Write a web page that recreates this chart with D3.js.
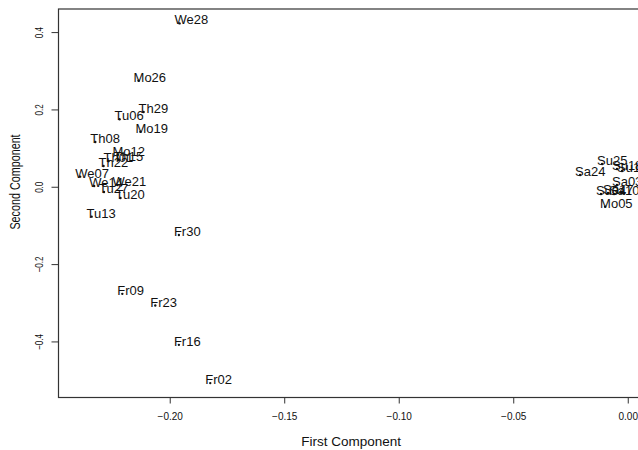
<!DOCTYPE html>
<html><head><meta charset="utf-8">
<script src="https://cdn.jsdelivr.net/npm/d3@7"></script>
<style>
html,body{margin:0;padding:0;background:#fff;}
svg{display:block;font-family:"Liberation Sans",Arial,Helvetica,sans-serif;}
</style></head>
<body>
<svg id="chart" width="638" height="450"></svg>
<script>
const labels = ["Th01","Fr02","Sa03","Su04","Mo05","Tu06","We07","Th08","Fr09","Sa10",
                "Su11","Mo12","Tu13","We14","Th15","Fr16","Sa17","Su18","Mo19","Tu20",
                "We21","Th22","Fr23","Sa24","Su25","Mo26","Tu27","We28","Th29","Fr30"];
const firstComp = [-0.2267,-0.1823,-0.0047,-0.0117,-0.0099,-0.2219,-0.2391,-0.2325,-0.2207,-0.0060,
                   -0.0025,-0.2228,-0.2341,-0.2330,-0.2223,-0.1960,-0.0086,-0.0047,-0.2128,-0.2215,
                   -0.2228,-0.2289,-0.2063,-0.0208,-0.0112,-0.2136,-0.2287,-0.1957,-0.2114,-0.1960];
const secondComp = [0.0680,-0.5065,0.0059,-0.0173,-0.0501,0.1757,0.0274,0.1171,-0.2757,-0.0173,
                    0.0421,0.0835,-0.0760,0.0034,0.0705,-0.4075,-0.0147,0.0473,0.1437,-0.0276,
                    0.0059,0.0550,-0.3059,0.0318,0.0602,0.2755,-0.0121,0.4238,0.1946,-0.1233];
const xTicks = [-0.20,-0.15,-0.10,-0.05,0.00];
const xTickLabels = ["\u22120.20","\u22120.15","\u22120.10","\u22120.05","0.00"];
const yTicks = [0.4,0.2,0.0,-0.2,-0.4];
const yTickLabels = ["0.4","0.2","0.0","\u22120.2","\u22120.4"];
const xTitle = "First Component";
const yTitle = "Second Component";

const svg = d3.select("#chart");
const L = 58.5, R = 643.7, T = 9, B = 397.5;
const xExt = d3.extent(firstComp), yExt = d3.extent(secondComp);
const xPad = (xExt[1]-xExt[0])*0.04, yPad = (yExt[1]-yExt[0])*0.04;
const x = d3.scaleLinear().domain([xExt[0]-xPad, xExt[1]+xPad]).range([L, R]);
const y = d3.scaleLinear().domain([yExt[0]-yPad, yExt[1]+yPad]).range([B, T]);

// box
svg.append("rect").attr("x", L).attr("y", T).attr("width", R-L).attr("height", B-T)
  .attr("fill","none").attr("stroke","#333").attr("stroke-width",1.2);

// x axis
const xa = svg.append("g").attr("transform", `translate(0,${B})`)
  .call(d3.axisBottom(x).tickValues(xTicks).tickSize(6).tickPadding(9)
        .tickFormat((d,i)=>xTickLabels[i]));
xa.select(".domain").remove();
xa.selectAll("line").attr("stroke","#333");
xa.selectAll("text").attr("font-size","10px").attr("fill","#111")
  .attr("font-family","Liberation Sans, Arial, sans-serif");

// y axis
const ya = svg.append("g").attr("transform", `translate(${L},0)`)
  .call(d3.axisLeft(y).tickValues(yTicks).tickSize(7).tickFormat((d,i)=>yTickLabels[i]));
ya.select(".domain").remove();
ya.selectAll("line").attr("stroke","#333");
ya.selectAll(".tick").attr("transform", null);
ya.selectAll(".tick line").attr("y1", d=>y(d)).attr("y2", d=>y(d)).attr("x2",-7);
ya.selectAll("text").attr("font-size","10.5px").attr("fill","#111")
  .attr("font-family","Liberation Sans, Arial, sans-serif")
  .attr("text-anchor","middle").attr("x",0).attr("y",0).attr("dy",null)
  .attr("dominant-baseline","central")
  .attr("transform", d => `translate(-19,${y(d)}) rotate(-90) scale(0.77,1)`);

// titles
svg.append("text").attr("x",(L+R)/2).attr("y",446).attr("text-anchor","middle")
  .attr("font-size","13.5px").attr("fill","#111").text(xTitle);
svg.append("text").attr("transform",`translate(16,182) rotate(-90) scale(0.77,1)`)
  .attr("text-anchor","middle").attr("dominant-baseline","central")
  .attr("font-size","14px").attr("fill","#111").text(yTitle);

// points & labels
const data = labels.map((l,i)=>({l, a:firstComp[i], b:secondComp[i]}));
svg.append("g").selectAll("circle").data(data).enter().append("circle")
  .attr("cx", d=>x(d.a)).attr("cy", d=>y(d.b)).attr("r",1.2).attr("fill","#111");
svg.append("g").selectAll("text").data(data).enter().append("text")
  .attr("x", d=>x(d.a)-5).attr("y", d=>y(d.b)+1)
  .attr("font-size","13px").attr("fill","#111").text(d=>d.l);
</script>
</body></html>
